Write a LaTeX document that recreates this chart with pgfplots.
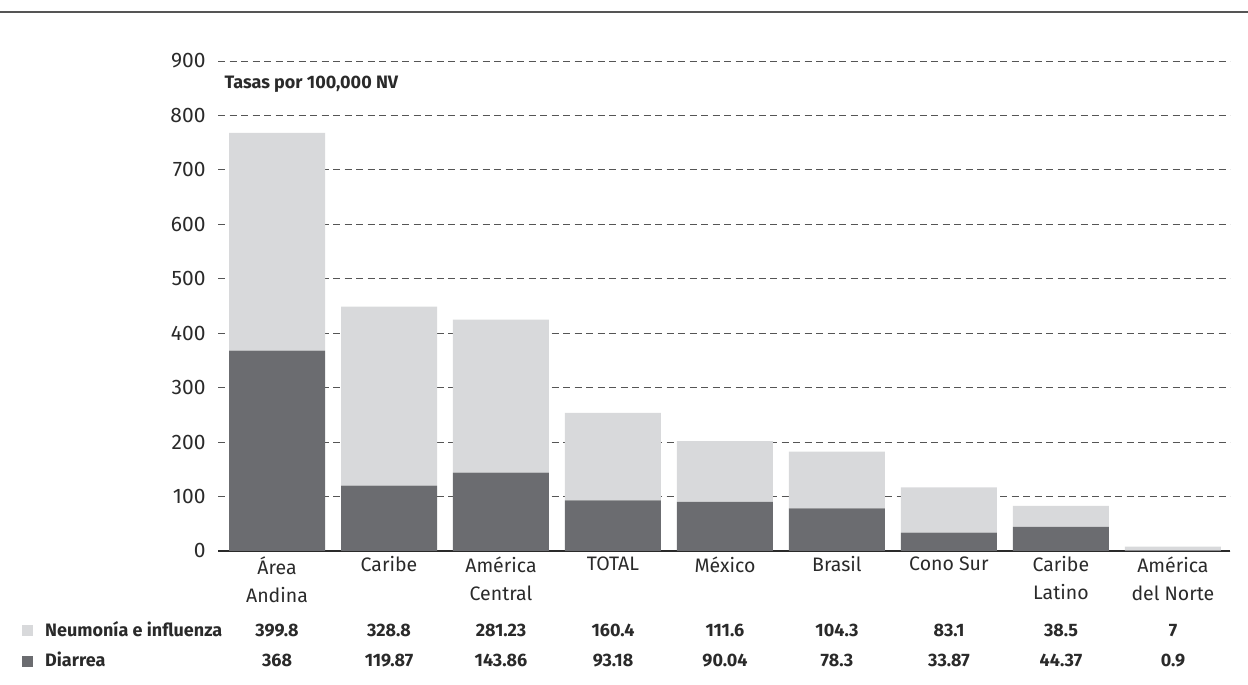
\documentclass[border=0pt]{standalone}
\usepackage{fontspec}
\setmainfont{Fira Sans}
\usepackage{pgfplots}
\pgfplotsset{compat=1.18}
\definecolor{darkbar}{HTML}{6B6C70}
\definecolor{lightbar}{HTML}{D8D9DB}
\definecolor{txt}{HTML}{2A2A2A}
\definecolor{gridc}{HTML}{555555}
\definecolor{rule}{HTML}{555555}
\newcommand{\tabfont}{\bfseries\fontsize{18}{20}\selectfont}

\pgfplotstableread{
x dia neu
0 368 399.8
1 119.87 328.8
2 143.86 281.23
3 93.18 160.4
4 90.04 111.6
5 78.3 104.3
6 33.87 83.1
7 44.37 38.5
8 0.9 7
}\datatable

\begin{document}
\begin{tikzpicture}[x=1pt,y=1pt]
\path[use as bounding box] (0,0) rectangle (1248,685);
\draw[line width=2pt, rule] (0,673) -- (1248,673);
\begin{axis}[
  at={(218pt,134pt)}, anchor=south west,
  scale only axis, width=1012pt, height=490pt,
  xmin=-0.527, xmax=8.51, ymin=0, ymax=900,
  ybar stacked, bar width=96pt,
  axis x line*=bottom, axis y line*=left,
  y axis line style={draw=none},
  x axis line style={line width=1.2pt, txt, -},
  major tick length=0pt,
  ytick={0,100,...,900},
  ymajorgrids,
  grid style={gridc, line width=0.9pt, dash pattern=on 7pt off 4.5pt},
  /pgf/number format/assume math mode=true,
  yticklabel style={font=\fontsize{21}{24}\selectfont, text=txt, anchor=east, xshift=-9pt},
  xtick={0,...,8},
  xticklabels={{Área\\Andina},Caribe,{América\\Central},TOTAL,México,Brasil,Cono Sur,{Caribe\\Latino},{América\\del Norte}},
  xticklabel style={font=\fontsize{19.5}{28}\selectfont, text=txt, align=center, anchor=north, yshift=-2pt},
  clip=false,
  axis on top=false,
]
\addplot[fill=darkbar, draw=none] table[x=x, y=dia] {\datatable};
\addplot[fill=lightbar, draw=none] table[x=x, y=neu] {\datatable};
\node[anchor=west, font=\bfseries\fontsize{18}{20}\selectfont, text=txt] at (axis cs:-0.5,858) {Tasas por 100,000 NV};
\end{axis}
% data table below the chart
\fill[lightbar] (22,49) rectangle (33,60);
\fill[darkbar] (22,18) rectangle (33,29);
\node[anchor=base west, font=\tabfont, text=txt, inner sep=0] at (45,48) {Neumonía e influenza};
\node[anchor=base west, font=\tabfont, text=txt, inner sep=0] at (45,18) {Diarrea};
\foreach \cx/\a/\b in {277/399.8/368, 389/328.8/119.87, 501/281.23/143.86, 613/160.4/93.18, 725/111.6/90.04, 837/104.3/78.3, 949/83.1/33.87, 1061/38.5/44.37, 1173/7/0.9}{
  \node[anchor=base, font=\tabfont, text=txt, inner sep=0] at (\cx,48) {\a};
  \node[anchor=base, font=\tabfont, text=txt, inner sep=0] at (\cx,18) {\b};
}
\end{tikzpicture}
\end{document}
